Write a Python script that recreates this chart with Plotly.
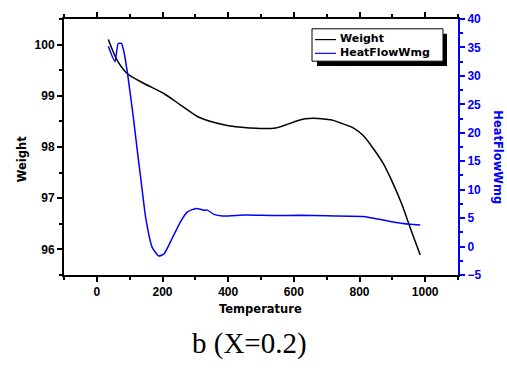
import plotly.graph_objects as go

# Weight (%) vs temperature
temp_w = [35, 63, 93, 144, 205, 255, 311, 397, 468, 498, 544, 635, 711, 742, 782, 812, 843, 873, 904, 929, 954, 985]
weight = [100.1, 99.68, 99.43, 99.24, 99.04, 98.82, 98.58, 98.42, 98.37, 98.36, 98.37, 98.55, 98.53, 98.47, 98.37,
          98.22, 97.96, 97.67, 97.26, 96.88, 96.43, 95.89]

# Heat flow (W/g) vs temperature
temp_h = [35, 55, 65, 75, 83, 93, 111, 124, 134, 149, 169, 189, 205, 230, 255, 276, 302, 326, 337, 357, 382,
          453, 540, 620, 700, 812, 850, 894, 954, 985]
heatflow = [35.2, 32.5, 35.7, 35.7, 34.1, 30.6, 22.8, 16.5, 11.9, 5.0, -0.2, -1.66, -1.26, 1.5, 4.4, 6.1, 6.7, 6.4,
            6.4, 5.65, 5.38, 5.55, 5.45, 5.5, 5.4, 5.3, 4.9, 4.4, 3.9, 3.8]

legend_names = ["Weight", "HeatFlowWmg"]
legend_colors = ["black", "#0000ff"]

SANS = "Liberation Sans, Arial"
BOLD = "DejaVu Sans"
BLUE = "#0000ff"

# plot area in pixels (for converting overlay positions to paper coords)
L, R, T, B = 64, 458, 14, 275
W_, H_ = R - L, B - T


def px(x):
    return (x - L) / W_


def py(y):
    return (B - y) / H_


fig = go.Figure()
fig.add_trace(go.Scatter(x=temp_w, y=weight, mode="lines", name=legend_names[0], showlegend=False,
                         line=dict(color=legend_colors[0], width=1.5, shape="spline", smoothing=0.8)))
fig.add_trace(go.Scatter(x=temp_h, y=heatflow, mode="lines", name=legend_names[1], yaxis="y2", showlegend=False,
                         line=dict(color=legend_colors[1], width=1.5, shape="spline", smoothing=0.5)))

# manual legend box with drop shadow (Origin style)
shapes = [
    dict(type="rect", xref="paper", yref="paper", x0=px(317), x1=px(447), y0=py(62), y1=py(29),
         fillcolor="black", line=dict(width=0), layer="above"),
    dict(type="rect", xref="paper", yref="paper", x0=px(312), x1=px(443), y0=py(57), y1=py(24),
         fillcolor="white", line=dict(color="black", width=1), layer="above"),
]
annotations = []
for i, (name, col) in enumerate(zip(legend_names, legend_colors)):
    yy = 34 + i * 14
    shapes.append(dict(type="line", xref="paper", yref="paper", x0=px(315), x1=px(336), y0=py(yy + 1), y1=py(yy + 1),
                       line=dict(color=col, width=1.2), layer="above"))
    annotations.append(dict(text="<b>%s</b>" % name, xref="paper", yref="paper", x=px(339), y=py(yy),
                            xanchor="left", yanchor="middle", showarrow=False, borderpad=0,
                            font=dict(family=BOLD, size=11, color="black")))

annotations += [
    dict(text="<b>Temperature</b>", xref="paper", yref="paper", x=px(260), y=py(310),
         showarrow=False, font=dict(family=BOLD, size=11.5, color="black"), xanchor="center", yanchor="middle"),
    dict(text="<b>Weight</b>", xref="paper", yref="paper", x=px(22), y=py(157),
         showarrow=False, textangle=-90, font=dict(family=BOLD, size=11.5, color="black"),
         xanchor="center", yanchor="middle"),
    dict(text="<b>HeatFlowWmg</b>", xref="paper", yref="paper", x=px(498), y=py(155),
         showarrow=False, textangle=90, font=dict(family=BOLD, size=11.5, color=BLUE),
         xanchor="center", yanchor="middle"),
    dict(text="b (X=0.2)", xref="paper", yref="paper", x=px(249), y=py(345),
         showarrow=False, font=dict(family="Liberation Serif, Times New Roman", size=29, color="black"),
         xanchor="center", yanchor="middle"),
]

fig.update_layout(
    width=507, height=371,
    margin=dict(l=L, r=507 - R, t=T, b=371 - B),
    paper_bgcolor="white", plot_bgcolor="white",
    showlegend=False,
    xaxis=dict(range=[-100, 1100], tickvals=[0, 200, 400, 600, 800, 1000],
               ticks="outside", ticklen=5, tickwidth=1.5, tickcolor="black",
               minor=dict(dtick=100, tick0=0, ticks="outside", ticklen=3, tickwidth=1.5, tickcolor="black"),
               showline=True, linecolor="black", linewidth=2, mirror="ticks",
               showgrid=False, zeroline=False,
               tickfont=dict(family=SANS, size=12, color="black", weight="bold")),
    yaxis=dict(range=[95.5, 100.5], tickvals=[96, 97, 98, 99, 100],
               ticks="outside", ticklen=5, tickwidth=1.5, tickcolor="black",
               minor=dict(dtick=0.5, tick0=95.5, ticks="outside", ticklen=3, tickwidth=1.5, tickcolor="black"),
               showline=True, linecolor="black", linewidth=2,
               showgrid=False, zeroline=False,
               tickfont=dict(family=SANS, size=12, color="black", weight="bold")),
    yaxis2=dict(range=[-5, 40], tickvals=[-5, 0, 5, 10, 15, 20, 25, 30, 35, 40],
                overlaying="y", side="right", anchor="x",
                ticks="outside", ticklen=5, tickwidth=1.5, tickcolor=BLUE,
                minor=dict(dtick=2.5, tick0=-5, ticks="outside", ticklen=3, tickwidth=1.5, tickcolor=BLUE),
                showline=True, linecolor=BLUE, linewidth=2,
                showgrid=False, zeroline=False,
                tickfont=dict(family=SANS, size=12, color=BLUE, weight="bold")),
    shapes=shapes,
    annotations=annotations,
)

fig.write_html("out.html")
